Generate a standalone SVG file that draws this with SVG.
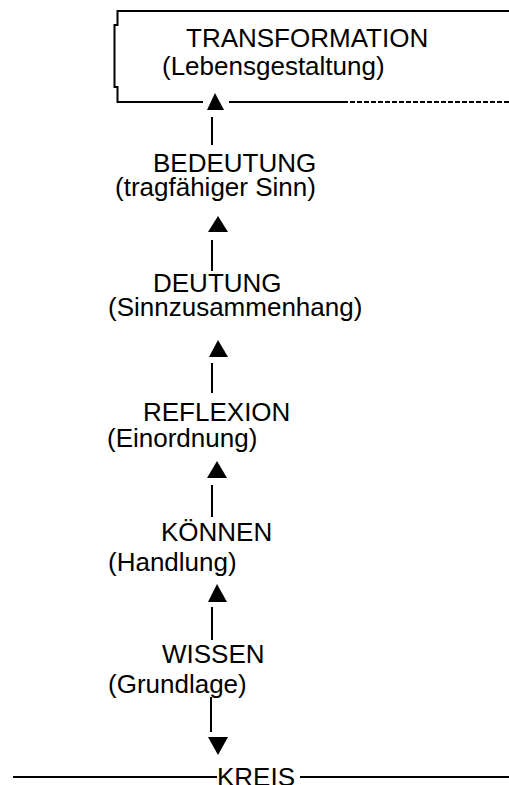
<svg xmlns="http://www.w3.org/2000/svg" width="509" height="785" viewBox="0 0 509 785">
<style>
text{font-family:"Liberation Sans",Arial,sans-serif;font-size:26px;fill:#000}
.ln{stroke:#000;stroke-width:2;fill:none}
.dash{stroke:#000;stroke-width:2;fill:none;stroke-dasharray:5 2}
.tri{fill:#000}
</style>
<rect width="509" height="785" fill="#fff"/>
<g id="connectors">
<path class="ln" d="M509,11 H117.5 V25 H114.5 V87 H117.5 V102 H203"/>
<path class="ln" d="M229,102 H343"/>
<path class="dash" d="M343,102 H509"/>
<polygon class="tri" points="215,93 207,110 224,110"/>
<path class="ln" d="M212,117 V145"/>
<polygon class="tri" points="218,216 208,232 228,232"/>
<path class="ln" d="M212,240 V271"/>
<polygon class="tri" points="218,340 209,357 228,357"/>
<path class="ln" d="M212,363 V393"/>
<polygon class="tri" points="217,461 207,478 227,478"/>
<path class="ln" d="M212,485 V517"/>
<polygon class="tri" points="217,584 208,602 227,602"/>
<path class="ln" d="M212,607 V640"/>
<path class="ln" d="M211,697 V732"/>
<polygon class="tri" points="218,755 208,737 228,737"/>
<path class="ln" d="M13,777 H217 M300,777 H509"/>
</g>
<g id="transformation"><text x="186" y="47">TRANSFORMATION</text><text x="162" y="75">(Lebensgestaltung)</text></g>
<g id="bedeutung"><text x="153" y="172">BEDEUTUNG</text><text x="115" y="196">(tragfähiger Sinn)</text></g>
<g id="deutung"><text x="153" y="292">DEUTUNG</text><text x="108" y="316">(Sinnzusammenhang)</text></g>
<g id="reflexion"><text x="143" y="421">REFLEXION</text><text x="107" y="447">(Einordnung)</text></g>
<g id="koennen"><text x="161" y="541">KÖNNEN</text><text x="108" y="571">(Handlung)</text></g>
<g id="wissen"><text x="162" y="663">WISSEN</text><text x="108" y="693">(Grundlage)</text></g>
<g id="kreis"><text x="217" y="786">KREIS</text></g>
</svg>
